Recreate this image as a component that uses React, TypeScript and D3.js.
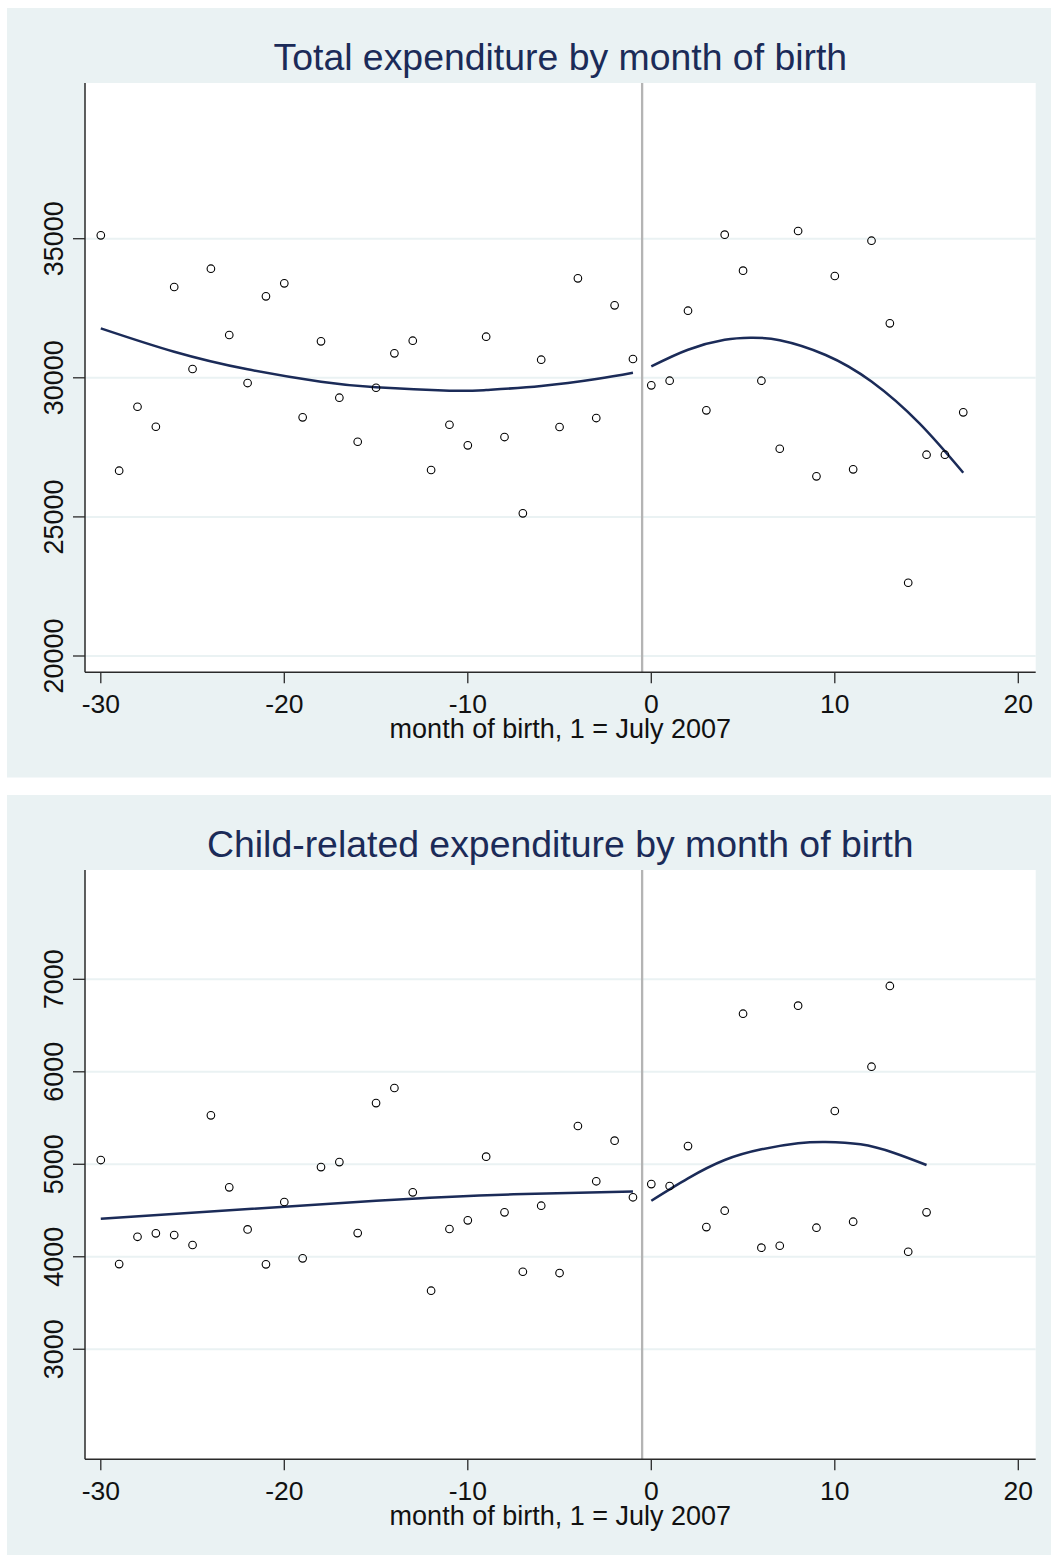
import * as d3 from 'd3';
import React, { useRef, useEffect } from 'react';

// months of birth, 1 = July 2007
const monthsTotal = d3.range(-30, 18);
const monthsChild = d3.range(-30, 16);

const totalValues = [
  35122, 26660, 28960, 28241, 33264, 30316, 33921, 31538, 29812, 32929,
  33397, 28579, 31312, 29284, 27702, 29643, 30880, 31333, 26685, 28313,
  27573, 31477, 27871, 25128, 30650, 28231, 33576, 28554, 32606, 30675,
  29730, 29895, 32412, 28831, 35144, 33850, 29895, 27450, 35277, 26458,
  33659, 26710, 34928, 31959, 22633, 27235, 27235, 28759
];

const childValues = [
  5046, 3921, 4216, 4253, 4235, 4127, 5529, 4751, 4296, 3918,
  4592, 3983, 4970, 5024, 4256, 5662, 5825, 4697, 3633, 4300,
  4394, 5082, 4480, 3838, 4552, 3824, 5414, 4816, 5255, 4643,
  4786, 4765, 5197, 4321, 4498, 6628, 4098, 4119, 6715, 4314,
  5576, 4379, 6055, 6928, 4054, 4480
];

// fitted curves
const totalFitLeftX = [-30, -26, -22, -18, -15, -11, -9, -6, -3, -1];
const totalFitLeftY = [31779, 30938, 30305, 29859, 29658, 29536, 29561, 29705, 29956, 30183];
const totalFitRightX = [0, 2, 4, 5.4, 7, 9.5, 12, 14.6, 17];
const totalFitRightY = [30410, 31010, 31365, 31441, 31350, 30820, 29865, 28370, 26588];

const childFitLeftX = [-30, -15, -7.5, -1];
const childFitLeftY = [4411, 4606, 4675, 4707];
const childFitRightX = [0, 2, 4, 6, 8, 9.5, 11.4, 13.2, 15];
const childFitRightY = [4606, 4848, 5046, 5162, 5227, 5241, 5216, 5125, 4992];

const xTicks = [-30, -20, -10, 0, 10, 20];
const totalTicks = [20000, 25000, 30000, 35000];
const childTicks = [3000, 4000, 5000, 6000, 7000];

const W = 1051;
const H = 1555;
const BG = '#eaf2f3';
const NAVY = '#1b2b58';
const FONT = '"Liberation Sans", Arial, Helvetica, sans-serif';

function drawPanel(g, opts) {
  const { top, title, months, values, yDomain, yTicks, fits } = opts;
  const left = 85, right = 1035.7;
  const plotTop = top + 75, plotBottom = top + 664.3;

  g.append('rect')
    .attr('x', 7).attr('y', top)
    .attr('width', W - 7).attr('height', 769.5)
    .attr('fill', BG);

  g.append('rect')
    .attr('x', left).attr('y', plotTop)
    .attr('width', right - left).attr('height', plotBottom - plotTop)
    .attr('fill', '#fff');

  const x = d3.scaleLinear().domain([-30, 20]).range([100.8, 1018.3]);
  const y = d3.scaleLinear().domain(yDomain).range([plotBottom, plotTop]);

  // grid
  g.append('g').selectAll('line').data(yTicks).join('line')
    .attr('x1', left).attr('x2', right)
    .attr('y1', d => y(d)).attr('y2', d => y(d))
    .attr('stroke', BG).attr('stroke-width', 2);

  // cutoff line
  g.append('line')
    .attr('x1', x(-0.5)).attr('x2', x(-0.5))
    .attr('y1', plotTop).attr('y2', plotBottom)
    .attr('stroke', '#b4b4b4').attr('stroke-width', 2.3);

  // axes
  g.append('line')
    .attr('x1', left).attr('x2', left).attr('y1', plotTop).attr('y2', plotBottom)
    .attr('stroke', '#2a2a2a').attr('stroke-width', 1.5);
  g.append('line')
    .attr('x1', left).attr('x2', right).attr('y1', plotBottom).attr('y2', plotBottom)
    .attr('stroke', '#2a2a2a').attr('stroke-width', 1.5);

  g.append('g').selectAll('line').data(xTicks).join('line')
    .attr('x1', d => x(d)).attr('x2', d => x(d))
    .attr('y1', plotBottom).attr('y2', plotBottom + 11)
    .attr('stroke', '#2a2a2a').attr('stroke-width', 1.3);
  g.append('g').selectAll('text').data(xTicks).join('text')
    .attr('x', d => x(d)).attr('y', plotBottom + 41)
    .attr('text-anchor', 'middle')
    .attr('font-family', FONT).attr('font-size', 26.5).attr('fill', '#111')
    .text(d => d);

  g.append('g').selectAll('line').data(yTicks).join('line')
    .attr('x1', left - 12).attr('x2', left)
    .attr('y1', d => y(d)).attr('y2', d => y(d))
    .attr('stroke', '#2a2a2a').attr('stroke-width', 1.3);
  g.append('g').selectAll('text').data(yTicks).join('text')
    .attr('transform', d => `translate(63,${y(d)}) rotate(-90)`)
    .attr('text-anchor', 'middle')
    .attr('font-family', FONT).attr('font-size', 27).attr('fill', '#111')
    .text(d => d);

  g.append('text')
    .attr('x', (left + right) / 2).attr('y', plotBottom + 66)
    .attr('text-anchor', 'middle')
    .attr('font-family', FONT).attr('font-size', 27).attr('fill', '#111')
    .text('month of birth, 1 = July 2007');

  g.append('text')
    .attr('x', (left + right) / 2).attr('y', top + 62)
    .attr('text-anchor', 'middle')
    .attr('font-family', FONT).attr('font-size', 37.4).attr('fill', NAVY)
    .text(title);

  // fitted curves
  const gen = d3.line().curve(d3.curveNatural).x(d => x(d[0])).y(d => y(d[1]));
  fits.forEach(([xs, ys]) => {
    g.append('path')
      .attr('d', gen(xs.map((v, i) => [v, ys[i]])))
      .attr('fill', 'none').attr('stroke', NAVY).attr('stroke-width', 2.5);
  });

  // scatter
  g.append('g').selectAll('circle').data(months).join('circle')
    .attr('cx', d => x(d)).attr('cy', (d, i) => y(values[i]))
    .attr('r', 3.8)
    .attr('fill', 'none').attr('stroke', '#000').attr('stroke-width', 1.1);
}

export default function App() {
  const ref = useRef(null);

  useEffect(() => {
    const svg = d3.select(ref.current);
    svg.selectAll('*').remove();
    svg.append('rect').attr('width', W).attr('height', H).attr('fill', '#fff');

    drawPanel(svg.append('g'), {
      top: 8,
      title: 'Total expenditure by month of birth',
      months: monthsTotal,
      values: totalValues,
      yDomain: [19414, 40597],
      yTicks: totalTicks,
      fits: [[totalFitLeftX, totalFitLeftY], [totalFitRightX, totalFitRightY]],
    });

    drawPanel(svg.append('g'), {
      top: 795,
      title: 'Child-related expenditure by month of birth',
      months: monthsChild,
      values: childValues,
      yDomain: [1810, 8182],
      yTicks: childTicks,
      fits: [[childFitLeftX, childFitLeftY], [childFitRightX, childFitRightY]],
    });
  }, []);

  return (
    <svg ref={ref} width={W} height={H}
      style={{ position: 'absolute', left: 0, top: 0, display: 'block' }} />
  );
}
